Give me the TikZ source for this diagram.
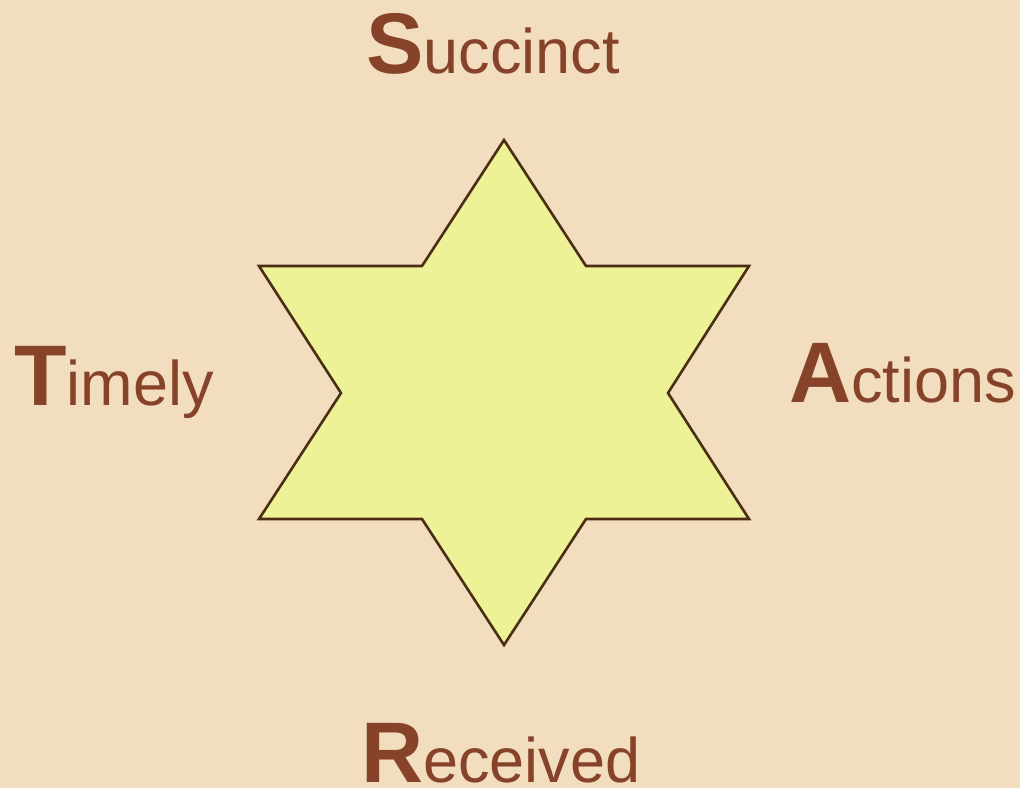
\documentclass[tikz,border=0pt]{standalone}
\usepackage{fontspec}
\setmainfont{Liberation Sans}
\definecolor{bgc}{HTML}{F3DDBF}
\definecolor{txtc}{HTML}{86432A}
\definecolor{starfill}{HTML}{EEF296}
\definecolor{starline}{HTML}{4A2E14}
\tikzset{
  lbl/.style={anchor=base west, inner sep=0pt, text=txtc, font=\fontsize{63}{70}\selectfont},
  starshape/.style={fill=starfill, draw=starline, line width=2.6pt, line join=miter},
}
\newcommand{\Bg}[1]{{\fontsize{86}{90}\selectfont\bfseries #1}}
\begin{document}
\begin{tikzpicture}[x=1pt,y=-1pt]
\fill[bgc] (0,0) rectangle (1020,788);
\useasboundingbox (0,0) rectangle (1020,788);
\draw[starshape] (504,140) -- (586,266) -- (749,266) -- (668,393) -- (749,519) -- (586,519)
  -- (504,645) -- (422,519) -- (259,519) -- (341,393) -- (259,266) -- (422,266) -- cycle;
\node[lbl] (s) at (366,73) {\Bg{S}uccinct};
\node[lbl] (t) at (14,405) {\Bg{T}imely};
\node[lbl] (a) at (789,402) {\Bg{A}ctions};
\node[lbl] (r) at (361,782) {\Bg{R}eceived};
\end{tikzpicture}
\end{document}
